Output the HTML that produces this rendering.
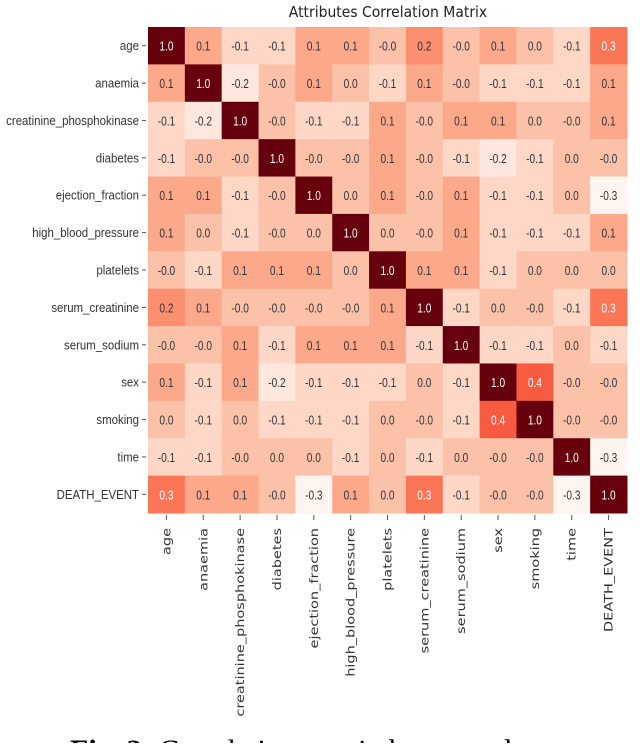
<!DOCTYPE html>
<html><head><meta charset="utf-8"><style>
body{margin:0;background:#fff;width:640px;height:743px;overflow:hidden}
</style></head><body>
<svg width="640" height="743" id="chart">
<text x="388" y="17" font-size="15" text-anchor="middle" fill="#222" style="font-family:'DejaVu Sans',sans-serif" transform="translate(388,0) scale(0.93,1) translate(-388,0)">Attributes Correlation Matrix</text>
<text x="70" y="760" font-size="30" fill="#000" style="font-family:'Liberation Serif',serif"><tspan font-weight="bold">Fig. 2:</tspan>  Correlation matrix between dataset</text>
</svg>
<script>
const labels=["age","anaemia","creatinine_phosphokinase","diabetes","ejection_fraction","high_blood_pressure","platelets","serum_creatinine","serum_sodium","sex","smoking","time","DEATH_EVENT"];
const row0=["1.0","0.1","-0.1","-0.1","0.1","0.1","-0.0","0.2","-0.0","0.1","0.0","-0.1","0.3"];
const row1=["0.1","1.0","-0.2","-0.0","0.1","0.0","-0.1","0.1","-0.0","-0.1","-0.1","-0.1","0.1"];
const row2=["-0.1","-0.2","1.0","-0.0","-0.1","-0.1","0.1","-0.0","0.1","0.1","0.0","-0.0","0.1"];
const row3=["-0.1","-0.0","-0.0","1.0","-0.0","-0.0","0.1","-0.0","-0.1","-0.2","-0.1","0.0","-0.0"];
const row4=["0.1","0.1","-0.1","-0.0","1.0","0.0","0.1","-0.0","0.1","-0.1","-0.1","0.0","-0.3"];
const row5=["0.1","0.0","-0.1","-0.0","0.0","1.0","0.0","-0.0","0.1","-0.1","-0.1","-0.1","0.1"];
const row6=["-0.0","-0.1","0.1","0.1","0.1","0.0","1.0","0.1","0.1","-0.1","0.0","0.0","0.0"];
const row7=["0.2","0.1","-0.0","-0.0","-0.0","-0.0","0.1","1.0","-0.1","0.0","-0.0","-0.1","0.3"];
const row8=["-0.0","-0.0","0.1","-0.1","0.1","0.1","0.1","-0.1","1.0","-0.1","-0.1","0.0","-0.1"];
const row9=["0.1","-0.1","0.1","-0.2","-0.1","-0.1","-0.1","0.0","-0.1","1.0","0.4","-0.0","-0.0"];
const row10=["0.0","-0.1","0.0","-0.1","-0.1","-0.1","0.0","-0.0","-0.1","0.4","1.0","-0.0","-0.0"];
const row11=["-0.1","-0.1","-0.0","0.0","0.0","-0.1","0.0","-0.1","0.0","-0.0","-0.0","1.0","-0.3"];
const row12=["0.3","0.1","0.1","-0.0","-0.3","0.1","0.0","0.3","-0.1","-0.0","-0.0","-0.3","1.0"];
const matrix=[row0,row1,row2,row3,row4,row5,row6,row7,row8,row9,row10,row11,row12];
const vmin=-0.3,vmax=1.0;
const X0=148,X1=627,Y0=27,Y1=513,n=labels.length;
const cw=(X1-X0)/n,ch=(Y1-Y0)/n;
const xPos=i=>X0+i*cw, yPos=j=>Y0+j*ch;
const stops=[[255,245,240],[254,224,210],[252,187,161],[252,146,114],[251,106,74],[239,59,44],[203,24,29],[165,15,21],[103,0,13]];
function color(v){let t=Math.max(0,Math.min(1,(v-vmin)/(vmax-vmin)))*8;let i=Math.min(7,Math.floor(t)),f=t-i;
 const c=stops[i].map((a,k)=>Math.round(a+(stops[i+1][k]-a)*f));return `rgb(${c})`;}
const svg=document.getElementById('chart');const NS='http://www.w3.org/2000/svg';
function mk(tag,attrs){const e=document.createElementNS(NS,tag);for(const k in attrs)e.setAttribute(k,attrs[k]);svg.appendChild(e);return e;}
matrix.forEach((row,j)=>row.forEach((s,i)=>{
 const v=parseFloat(s);
 const r=mk('rect',{x:xPos(i),y:yPos(j),width:cw+0.5,height:ch+0.5,fill:color(v)});
 
 
 const cx=xPos(i)+cw/2;
 const t=mk('text',{x:0,y:0,'font-size':13,'text-anchor':'middle',fill:((v-vmin)/(vmax-vmin))>0.42?'#fff':'#333',style:"font-family:'Liberation Sans',sans-serif",transform:`translate(${cx},${yPos(j)+ch/2+5}) scale(0.78,1)`});
 t.textContent=s;
 
 
}));
labels.forEach((l,j)=>{
 const y=yPos(j)+ch/2;
 const tk=mk('line',{x1:X0-6,x2:X0-2,y1:y,y2:y,stroke:'#555'});
 
 
 const t=mk('text',{x:0,y:0,'font-size':13,'text-anchor':'end',fill:'#333',style:"font-family:'Liberation Sans',sans-serif",transform:`translate(${X0-9},${y+4.5}) scale(0.88,1)`});
 t.textContent=l;
 
 
});
labels.forEach((l,i)=>{
 const x=xPos(i)+cw/2;
 const tk=mk('line',{x1:x,x2:x,y1:Y1+2,y2:Y1+7,stroke:'#555'});
 
 
 const t=mk('text',{x:0,y:0,'font-size':11.5,'text-anchor':'end',fill:'#333',style:"font-family:'DejaVu Sans',sans-serif",transform:`translate(${x+4},${Y1+15}) rotate(-90) scale(1.26,1)`});
 t.textContent=l;
 
 
});
</script>
</body></html>
